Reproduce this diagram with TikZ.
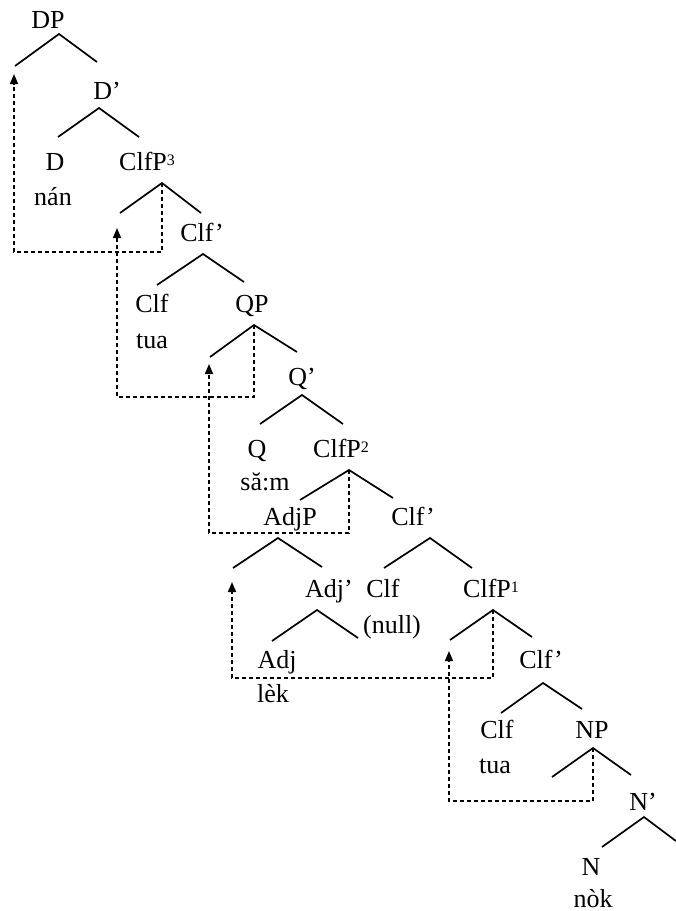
\documentclass[tikz,border=0pt]{standalone}
\usepackage{fontspec}
\setmainfont{Liberation Serif}
\usetikzlibrary{arrows.meta}
\newcommand{\supnum}[1]{\raisebox{4.5pt}{\fontsize{16}{16}\selectfont #1}}
\begin{document}
\begin{tikzpicture}[x=1pt,y=-1pt,
  lab/.style={anchor=base,inner sep=0pt,font=\fontsize{26}{30}\selectfont},
  labw/.style={lab,anchor=base west},
  branch/.style={line width=1.7pt},
  move/.style={line width=1.6pt,dash pattern=on 4pt off 3pt},
  movearrow/.style={move,-{Triangle[length=10pt,width=8pt]}}]
\useasboundingbox (0,0) rectangle (676,911);

% ---- labels ----
\node[lab] (DP) at (48,28) {DP};
\node[lab] (Dbar) at (107,99) {D’};
\node[lab] (D) at (55,170) {D};
\node[lab] (nan) at (53,205) {nán};
\node[labw] (ClfP3) at (119,170) {ClfP\supnum{3}};
\node[lab] (Clfbar1) at (202,241) {Clf’};
\node[lab] (Clf1) at (152,312) {Clf};
\node[lab] (tua1) at (152,348) {tua};
\node[lab] (QP) at (252,312) {QP};
\node[lab] (Qbar) at (302,385) {Q’};
\node[lab] (Q) at (257,457) {Q};
\node[lab] (sam) at (265,490) {să:m};
\node[labw] (ClfP2) at (313,457) {ClfP\supnum{2}};
\node[lab] (AdjP) at (290,525) {AdjP};
\node[lab] (Clfbar2) at (413,525) {Clf’};
\node[labw] (Adjbar) at (305,597) {Adj’};
\node[lab] (Clf2) at (383,597) {Clf};
\node[lab] (null) at (392,633) {(null)};
\node[labw] (ClfP1) at (463,597) {ClfP\supnum{1}};
\node[lab] (Adj) at (277,668) {Adj};
\node[lab] (lek) at (273,702) {lèk};
\node[lab] (Clfbar3) at (541,668) {Clf’};
\node[lab] (Clf3) at (497,738) {Clf};
\node[lab] (tua3) at (495,773) {tua};
\node[lab] (NP) at (592,738) {NP};
\node[lab] (Nbar) at (643,810) {N’};
\node[lab] (N) at (591,875) {N};
\node[lab] (nok) at (593,907) {nòk};

% ---- branch points ----
\coordinate (dp-a) at (59,34);   \coordinate (dp-l) at (15,66);   \coordinate (dp-r) at (97,62);
\coordinate (db-a) at (99,108);  \coordinate (db-l) at (58,137);  \coordinate (db-r) at (139,137);
\coordinate (c3-a) at (162,183); \coordinate (c3-l) at (120,213); \coordinate (c3-r) at (201,213);
\coordinate (cb1-a) at (203,254);\coordinate (cb1-l) at (157,285);\coordinate (cb1-r) at (244,282);
\coordinate (qp-a) at (254,325); \coordinate (qp-l) at (210,357); \coordinate (qp-r) at (297,352);
\coordinate (qb-a) at (302,395); \coordinate (qb-l) at (260,424); \coordinate (qb-r) at (343,424);
\coordinate (c2-a) at (349,470); \coordinate (c2-l) at (300,500); \coordinate (c2-r) at (393,498);
\coordinate (ap-a) at (278,538); \coordinate (ap-l) at (233,568); \coordinate (ap-r) at (322,567);
\coordinate (cb2-a) at (430,538);\coordinate (cb2-l) at (384,568);\coordinate (cb2-r) at (472,568);
\coordinate (ab-a) at (317,610); \coordinate (ab-l) at (272,641); \coordinate (ab-r) at (358,638);
\coordinate (c1-a) at (493,610); \coordinate (c1-l) at (450,640); \coordinate (c1-r) at (532,637);
\coordinate (cb3-a) at (543,683);\coordinate (cb3-l) at (501,713);\coordinate (cb3-r) at (582,709);
\coordinate (np-a) at (593,748); \coordinate (np-l) at (552,777); \coordinate (np-r) at (631,775);
\coordinate (nb-a) at (644,817); \coordinate (nb-l) at (602,847); \coordinate (nb-r) at (676,841);

\foreach \n in {dp,db,c3,cb1,qp,qb,c2,ap,cb2,ab,c1,cb3,np,nb}
  \draw[branch] (\n-l) -- (\n-a) -- (\n-r);

% ---- movement paths ----
\coordinate (mA-b) at (162,252); \coordinate (mA-c) at (14,252);  \coordinate (mA-t) at (14,74);
\coordinate (mB-b) at (254,397); \coordinate (mB-c) at (117,397); \coordinate (mB-t) at (117,228);
\coordinate (mC-b) at (349,533); \coordinate (mC-c) at (209,533); \coordinate (mC-t) at (209,364);
\coordinate (mD-b) at (493,678); \coordinate (mD-c) at (232,678); \coordinate (mD-t) at (232,582);
\coordinate (mE-b) at (593,801); \coordinate (mE-c) at (449,801); \coordinate (mE-t) at (449,651);

\draw[movearrow] (c3-a) -- (mA-b) -- (mA-c) -- (mA-t);
\draw[movearrow] (qp-a) -- (mB-b) -- (mB-c) -- (mB-t);
\draw[movearrow] (c2-a) -- (mC-b) -- (mC-c) -- (mC-t);
\draw[movearrow] (c1-a) -- (mD-b) -- (mD-c) -- (mD-t);
\draw[movearrow] (np-a) -- (mE-b) -- (mE-c) -- (mE-t);
\end{tikzpicture}
\end{document}
